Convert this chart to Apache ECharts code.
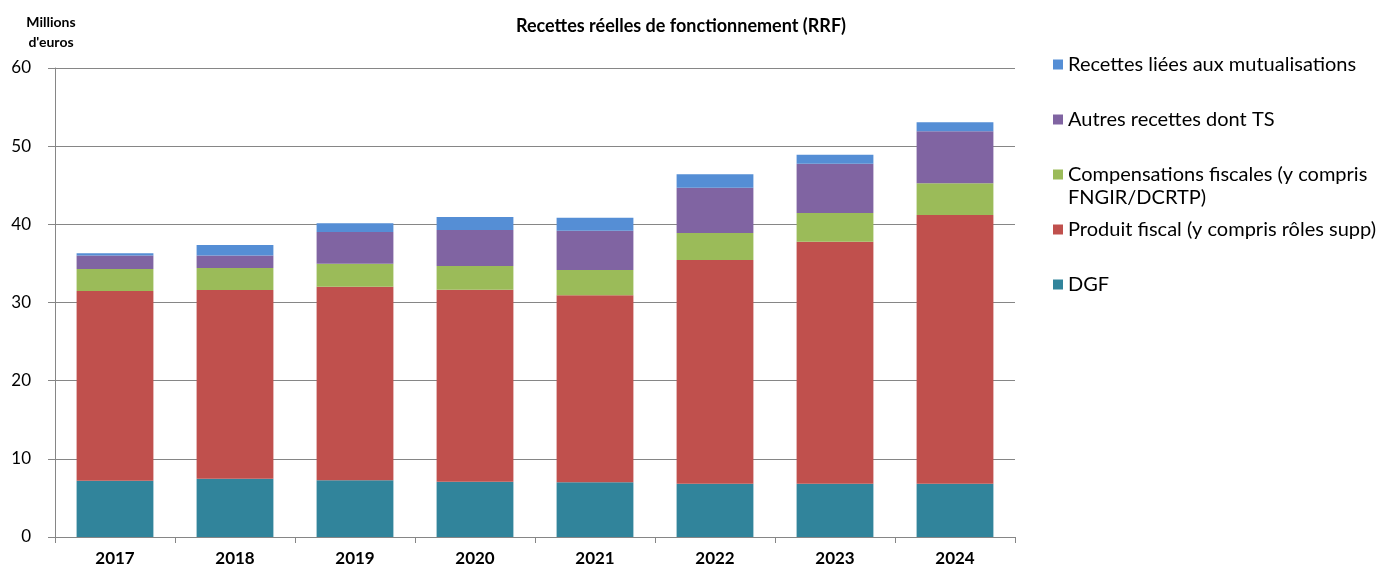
<!DOCTYPE html>
<html>
<head>
<meta charset="utf-8">
<script src="https://cdn.jsdelivr.net/npm/echarts@6/dist/echarts.min.js"></script>
<style>
    html, body { margin: 0; padding: 0; background: #fff; }
    #chart { width: 1386px; height: 567px; }
</style>
</head>
<body>
<div id="chart"></div>
<script>
// années
var years = ['2017', '2018', '2019', '2020', '2021', '2022', '2023', '2024'];
var yTicks = [0, 10, 20, 30, 40, 50, 60];

// millions d'euros
var dgf = [7.2, 7.46, 7.25, 7.08, 7.0, 6.82, 6.82, 6.82];
var produitFiscal = [24.27, 24.14, 24.78, 24.56, 23.92, 28.62, 30.96, 34.37];
var compensations = [2.81, 2.81, 2.93, 3.03, 3.24, 3.45, 3.67, 4.06];
var autresRecettes = [1.72, 1.59, 4.06, 4.6, 5.03, 5.8, 6.31, 6.65];
var mutualisations = [0.3, 1.35, 1.11, 1.67, 1.66, 1.71, 1.15, 1.15];

var NAME_MUT = 'Recettes liées aux mutualisations';
var NAME_AUT = 'Autres recettes dont TS';
var NAME_COMP = 'Compensations fiscales (y compris\nFNGIR/DCRTP)';
var NAME_PROD = 'Produit fiscal (y compris rôles supp)';
var NAME_DGF = 'DGF';

var font = 'Lato, "Liberation Sans", sans-serif';

function barSeries(name, data, color) {
    return {
        name: name,
        type: 'bar',
        stack: 'rrf',
        barWidth: '64%',
        data: data,
        itemStyle: { color: color },
        emphasis: { disabled: true }
    };
}

function legendItem(name, top, formatter) {
    var legend = {
        data: [name],
        orient: 'vertical',
        left: 1053,
        top: top,
        padding: 0,
        itemWidth: 10,
        itemHeight: 10,
        icon: 'rect',
        selectedMode: false,
        textStyle: { fontFamily: font, fontSize: 20, color: '#000', lineHeight: 23 }
    };
    if (formatter) {
        legend.formatter = formatter;
    }
    return legend;
}

var chart = echarts.init(document.getElementById('chart'));
var option = {
    animation: false,
    backgroundColor: '#fff',
    title: {
        text: 'Recettes réelles de fonctionnement (RRF)',
        left: 676,
        top: 12,
        textAlign: 'center',
        textStyle: { fontFamily: font, fontSize: 18, fontWeight: 'bold', color: '#000' }
    },
    legend: [
        legendItem(NAME_MUT, 53),
        legendItem(NAME_AUT, 108),
        // ligne vide en tête pour aligner le carré sur la première ligne
        legendItem(NAME_COMP, 140, function (name) { return ' \n' + name; }),
        legendItem(NAME_PROD, 218),
        legendItem(NAME_DGF, 273)
    ],
    grid: {
        left: 55,
        right: 371,
        top: 68,
        bottom: 30
    },
    xAxis: {
        type: 'category',
        data: years,
        axisLine: { lineStyle: { color: '#868686', width: 1 } },
        axisTick: { show: true, length: 6, alignWithLabel: false, lineStyle: { color: '#868686' } },
        axisLabel: { fontFamily: font, fontSize: 17, fontWeight: 'bold', color: '#000', margin: 13 }
    },
    yAxis: {
        type: 'value',
        min: yTicks[0],
        max: yTicks[yTicks.length - 1],
        interval: 10,
        name: "Millions\nd'euros",
        nameLocation: 'end',
        nameGap: 16,
        nameTextStyle: {
            fontFamily: font, fontSize: 14, fontWeight: 'bold', color: '#000',
            lineHeight: 20, align: 'center', padding: [0, 8, 0, 0]
        },
        axisLine: { show: true, lineStyle: { color: '#868686', width: 1 } },
        axisTick: { show: true, length: 7, lineStyle: { color: '#868686' } },
        axisLabel: { fontFamily: font, fontSize: 17, color: '#000', margin: 24 },
        splitLine: { lineStyle: { color: '#868686', width: 1 } }
    },
    series: [
        barSeries(NAME_DGF, dgf, '#31849B'),
        barSeries(NAME_PROD, produitFiscal, '#C0504D'),
        barSeries(NAME_COMP, compensations, '#9BBB59'),
        barSeries(NAME_AUT, autresRecettes, '#8064A2'),
        barSeries(NAME_MUT, mutualisations, '#558ED5')
    ]
};
chart.setOption(option);
</script>
</body>
</html>
